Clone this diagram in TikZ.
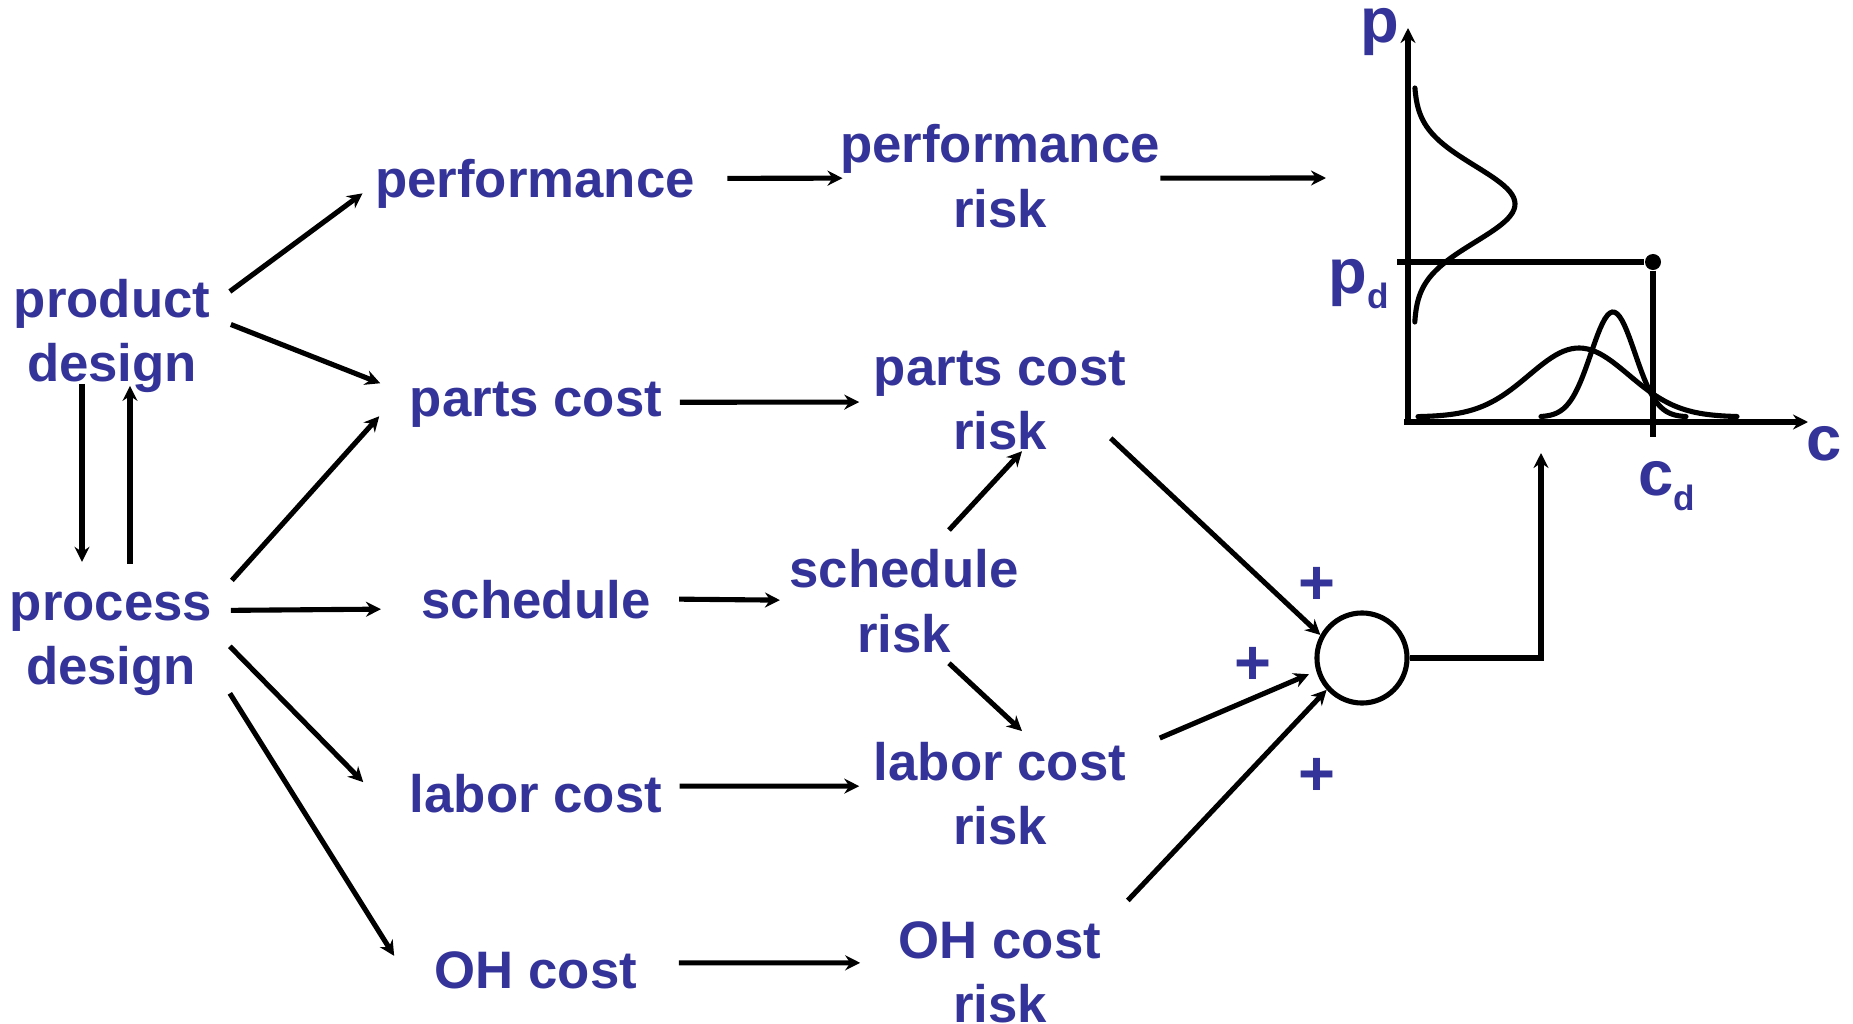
\documentclass[tikz,border=0pt]{standalone}
\usepackage{fontspec}
\setmainfont{Liberation Sans}
\usetikzlibrary{arrows.meta,calc}
\definecolor{txtblue}{RGB}{51,51,153}
\newcommand{\lowsub}[1]{\raisebox{-0.24em}{\fontsize{10}{12}\selectfont #1}}

\begin{document}
\begin{tikzpicture}[x=0.01cm,y=-0.01cm,
  lbl/.style={font=\fontsize{15}{18.2}\selectfont\bfseries,text=txtblue,align=center,inner sep=0pt,anchor=base},
  big/.style={font=\fontsize{18}{20}\selectfont\bfseries,text=txtblue,inner sep=0pt,anchor=base},
  arr/.style={line width=1.45pt,-{Stealth[length=1.5mm,width=1.5mm,inset=0.5mm]}},
  ln/.style={line width=1.45pt,line cap=round}]
\useasboundingbox (0,0) rectangle (1853,1024);

\node[lbl] (prod) at (112,381) {product\\design};
\node[lbl] (proc) at (111,684) {process\\design};
\node[lbl] (perf) at (535,197) {performance};
\node[lbl] (parts) at (536,416) {parts cost};
\node[lbl] (sched) at (536,618) {schedule};
\node[lbl] (labor) at (536,812) {labor cost};
\node[lbl] (oh) at (536,988) {OH cost};
\node[lbl] (perfrisk) at (1000,227) {performance\\risk};
\node[lbl] (partsrisk) at (1000,449) {parts cost\\risk};
\node[lbl] (schedrisk) at (904,652) {schedule\\risk};
\node[lbl] (laborrisk) at (1000,844) {labor cost\\risk};
\node[lbl] (ohrisk) at (1000,1022) {OH cost\\risk};

\node[circle,draw,line width=1.45pt,minimum size=9mm,inner sep=0pt] (sum) at (1362,658) {};
\node[big,anchor=center] (plus1) at (1317,586) {+};
\node[big,anchor=center] (plus2) at (1253,666) {+};
\node[big,anchor=center] (plus3) at (1317,777) {+};

% design loop
\draw[arr] ($(prod.south)+(-30,-9)$) -- ($(proc.north)+(-29,-29)$);
\draw[arr] ($(proc.north)+(19,-27)$) -- ($(prod.south)+(18,-7)$);

\draw[arr] ($(prod.east)+(19,-44)$) -- ($(perf.west)+(-12,10)$);
\draw[arr] ($(prod.east)+(20,-11)$) -- ($(parts.west)+(-29,-21)$);
\draw[arr] ($(proc.east)+(19,-63)$) -- ($(parts.west)+(-30,12)$);
\draw[arr] ($(proc.east)+(18,-33)$) -- ($(sched.west)+(-40,10)$);
\draw[arr] ($(proc.east)+(17,3)$) -- ($(labor.west)+(-46,-11)$);
\draw[arr] ($(proc.east)+(17,50)$) -- ($(oh.west)+(-40,-14)$);

\draw[arr] ($(perf.east)+(32,-5)$) -- ($(perfrisk.west)+(3,2)$);
\draw[arr] ($(parts.east)+(17,-2)$) -- ($(partsrisk.west)+(-14,2)$);
\draw[arr] ($(sched.east)+(28,0)$) -- ($(schedrisk.west)+(-9,-1)$);
\draw[arr] ($(labor.east)+(17,-7)$) -- ($(laborrisk.west)+(-14,-7)$);
\draw[arr] ($(oh.east)+(41,-7)$) -- ($(ohrisk.west)+(-38,-9)$);

\draw[arr] ($(schedrisk.north)+(45,-19)$) -- ($(partsrisk.south)+(22,1)$);
\draw[arr] ($(schedrisk.south)+(45,10)$) -- ($(laborrisk.north)+(22,-10)$);

\draw[arr] ($(partsrisk.south east)+(-16,-12)$) -- (sum.151);
\draw[arr,shorten >=0.8mm] ($(laborrisk.north east)+(33,-3)$) -- (sum.196);
\draw[arr] ($(ohrisk.north east)+(26,-20)$) -- (sum.222);

% chart
\coordinate (pin) at (1326,178);
\coordinate (sumin) at (1541,453);
\coordinate (orig) at (1408,422);
\coordinate (ytop) at (1408,28);
\coordinate (xleft) at (1404,422);
\coordinate (xright) at (1808,422);
\coordinate (pdleft) at (1397,262);
\coordinate (cdlow) at (1653,437);
\node[circle,fill,inner sep=0pt,minimum size=1.6mm] (design) at (1653,262) {};

\draw[arr] ($(perfrisk.east)+(0,2)$) -- (pin);
\draw[arr] (sum.east) -| (sumin);

\draw[arr] (orig) -- (ytop);
\draw[arr] (xleft) -- (xright);
\draw[ln,line cap=butt] (pdleft) -- (design) -- (cdlow);

\draw[ln] plot[domain=88:322,samples=80] ({1414+101*exp(-0.5*((\x-204)/38)^2)},{\x});
\draw[ln] plot[domain=1418:1737,samples=80] ({\x},{417-69*exp(-0.5*((\x-1579)/50)^2)});
\draw[ln] plot[domain=1541:1686,samples=60] ({\x},{417-105*exp(-0.5*((\x-1613)/22)^2)});

\node[big] (plbl) at (1380,43) {p};
\node[big] (clbl) at (1824,460) {c};
\node[big] (pdlbl) at (1359,293) {p\lowsub{d}};
\node[big] (cdlbl) at (1667,495) {c\lowsub{d}};
\end{tikzpicture}
\end{document}
